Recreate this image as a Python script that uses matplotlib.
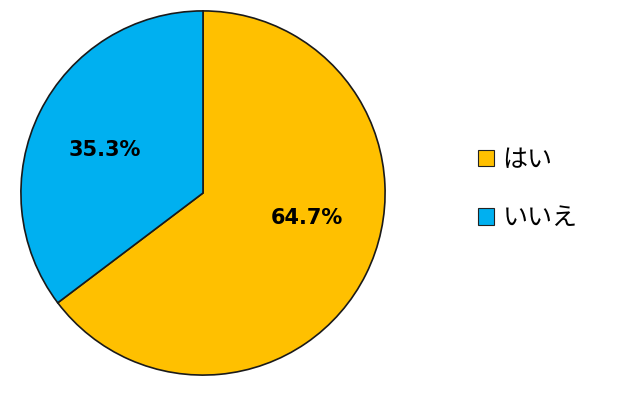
import matplotlib.pyplot as plt
from matplotlib.patches import Patch

plt.rcParams['font.family'] = ['Noto Sans CJK JP', 'DejaVu Sans']

labels = ["はい", "いいえ"]
values = [64.7, 35.3]
colors = ["#FFC000", "#00B0F0"]

fig = plt.figure(figsize=(6.23, 4.0), dpi=100)
ax = fig.add_axes([20 / 623, 24 / 400, 366 / 623, 366 / 400])

wedges, texts = ax.pie(values, colors=colors, startangle=90, counterclock=False,
                       wedgeprops=dict(edgecolor="#1a1a1a", linewidth=1.2))
ax.set_xlim(-1.005, 1.005)
ax.set_ylim(-1.005, 1.005)
ax.set_aspect("equal")

# percentage labels
ax.text(0.57, -0.14, "64.7%", ha="center", va="center", fontsize=15, fontweight="bold",
        family=["DejaVu Sans"])
ax.text(-0.54, 0.235, "35.3%", ha="center", va="center", fontsize=15, fontweight="bold",
        family=["DejaVu Sans"])

handles = [Patch(facecolor=c, edgecolor="#222222", linewidth=0.8) for c in colors]
fig.legend(handles, labels, loc="center left", bbox_to_anchor=(455 / 623, 1 - 189 / 400),
           frameon=False, fontsize=18, handlelength=0.65, handleheight=0.65,
           handletextpad=0.35, labelspacing=1.3)

fig.savefig("out.png", dpi=100, facecolor="white")
